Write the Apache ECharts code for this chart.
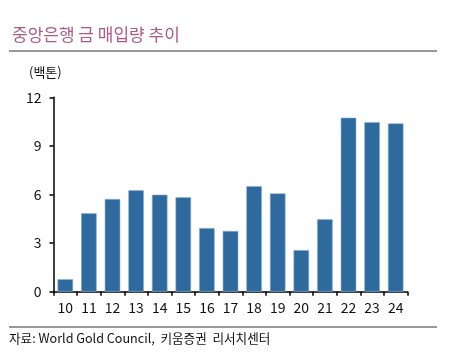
<!DOCTYPE html>
<html><head><meta charset="utf-8">
<script src="https://cdn.jsdelivr.net/npm/echarts@6/dist/echarts.min.js"></script>
<style>html,body{margin:0;padding:0;background:#fff}#c{width:451px;height:363px}</style>
</head><body><div id="c"></div>
<script>
const categories = ['10','11','12','13','14','15','16','17','18','19','20','21','22','23','24'];
const purchases = [0.77, 4.84, 5.72, 6.26, 5.99, 5.83, 3.93, 3.75, 6.52, 6.07, 2.57, 4.47, 10.74, 10.47, 10.39];
const yTicks = [0, 3, 6, 9, 12];
const titleText = '중앙은행 금 매입량 추이';
const unitText = '(백톤)';
const sourceText = '자료: World Gold Council,  키움증권  리서치센터';

const font = '"Noto Sans CJK KR", "Noto Sans", sans-serif';
const chart = echarts.init(document.getElementById('c'), null, {renderer: 'canvas'});
chart.setOption({
  animation: false,
  backgroundColor: '#fff',
  title: {
    text: titleText, left: 7, top: 21,
    textStyle: {color: '#AE5A86', fontSize: 17, fontWeight: 'normal', fontFamily: font}
  },
  grid: {left: 53.5, right: 43.5, top: 97.3, bottom: 71.3},
  xAxis: {
    type: 'category', data: categories,
    axisLine: {lineStyle: {color: '#000', width: 1.5}},
    axisTick: {show: true, length: 4, lineStyle: {color: '#000', width: 1.5}},
    axisLabel: {color: '#111', fontSize: 14, fontFamily: font, margin: 9, interval: 0}
  },
  yAxis: {
    type: 'value', min: yTicks[0], max: yTicks[yTicks.length - 1], interval: 3,
    splitLine: {show: false},
    axisLine: {show: true, lineStyle: {color: '#000', width: 1.5}},
    axisTick: {show: true, length: 4, lineStyle: {color: '#000', width: 1.5}},
    axisLabel: {color: '#111', fontSize: 14, fontFamily: font, margin: 12}
  },
  series: [{
    type: 'bar', data: purchases, barCategoryGap: '34%',
    itemStyle: {color: '#2E6A9E', borderColor: '#8DB4D6', borderWidth: 0.6}
  }],
  graphic: [
    {type: 'line', shape: {x1: 9, y1: 51, x2: 437, y2: 51}, style: {stroke: '#333', lineWidth: 1.2}},
    {type: 'line', shape: {x1: 9, y1: 327, x2: 437, y2: 327}, style: {stroke: '#333', lineWidth: 1.2}},
    {type: 'text', left: 29, top: 66, style: {text: unitText, fill: '#111', font: '13px ' + font}},
    {type: 'text', left: 9, top: 332, style: {text: sourceText, fill: '#111', font: '12.6px ' + font}}
  ]
});
</script></body></html>
